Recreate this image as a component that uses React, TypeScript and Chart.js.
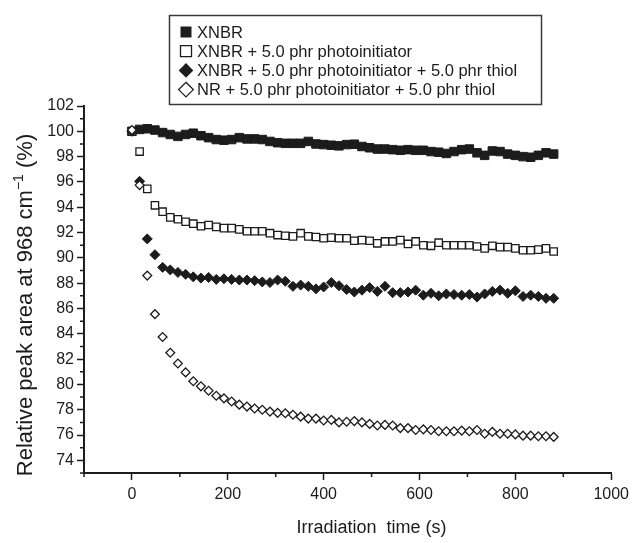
import React, { useEffect, useRef } from 'react';
import { Chart, registerables } from 'chart.js';

Chart.register(...registerables);

// ---- data ----
const times = [0, 16, 32, 48, 64, 80, 96, 112, 128, 144, 160, 176, 192, 208, 224, 240, 256, 272, 288, 304, 320, 336, 352, 368, 384, 400, 416, 432, 448, 464, 480, 496, 512, 528, 544, 560, 576, 592, 608, 624, 640, 656, 672, 688, 704, 720, 736, 752, 768, 784, 800, 816, 832, 848, 864, 880];

const xnbr = [100.0, 100.15, 100.2, 100.1, 99.9, 99.75, 99.6, 99.75, 99.85, 99.65, 99.5, 99.35, 99.3, 99.35, 99.5, 99.4, 99.4, 99.35, 99.2, 99.1, 99.05, 99.05, 99.05, 99.2, 99.0, 98.95, 98.9, 98.85, 98.95, 98.98, 98.8, 98.7, 98.6, 98.6, 98.55, 98.5, 98.55, 98.5, 98.5, 98.4, 98.35, 98.25, 98.4, 98.55, 98.6, 98.3, 98.1, 98.45, 98.4, 98.2, 98.1, 98.0, 97.95, 98.1, 98.3, 98.2];

const xnbrPi = [100.0, 98.4, 95.45, 94.15, 93.65, 93.2, 93.05, 92.85, 92.7, 92.5, 92.6, 92.45, 92.35, 92.35, 92.25, 92.1, 92.1, 92.1, 91.95, 91.8, 91.75, 91.7, 91.95, 91.7, 91.65, 91.55, 91.6, 91.55, 91.55, 91.35, 91.4, 91.35, 91.15, 91.3, 91.3, 91.4, 91.1, 91.3, 91.0, 90.95, 91.2, 91.0, 91.0, 91.0, 91.0, 90.9, 90.75, 90.95, 90.85, 90.85, 90.75, 90.6, 90.6, 90.65, 90.75, 90.5];

const xnbrPiThiol = [100.0, 96.05, 91.5, 90.25, 89.25, 89.05, 88.85, 88.7, 88.5, 88.4, 88.45, 88.3, 88.35, 88.3, 88.25, 88.25, 88.2, 88.1, 88.05, 88.25, 88.15, 87.75, 87.85, 87.75, 87.55, 87.7, 88.05, 87.8, 87.5, 87.3, 87.45, 87.65, 87.35, 87.75, 87.25, 87.25, 87.3, 87.45, 87.05, 87.2, 87.0, 87.15, 87.1, 87.05, 87.1, 86.9, 87.15, 87.35, 87.45, 87.2, 87.4, 86.95, 87.05, 86.95, 86.8, 86.8];

const nrPiThiol = [100.1, 95.75, 88.6, 85.55, 83.75, 82.5, 81.65, 80.95, 80.25, 79.85, 79.5, 79.1, 78.9, 78.65, 78.4, 78.25, 78.1, 78.0, 77.85, 77.75, 77.72, 77.6, 77.45, 77.3, 77.3, 77.15, 77.2, 77.0, 77.05, 77.1, 77.0, 76.88, 76.75, 76.8, 76.75, 76.55, 76.55, 76.4, 76.45, 76.4, 76.3, 76.3, 76.3, 76.35, 76.3, 76.4, 76.1, 76.25, 76.1, 76.1, 76.05, 75.95, 75.95, 75.9, 75.9, 75.85];

const seriesLabels = [
  'XNBR',
  'XNBR + 5.0 phr photoinitiator',
  'XNBR + 5.0 phr photoinitiator + 5.0 phr thiol',
  'NR + 5.0 phr photoinitiator + 5.0 phr thiol',
];

const xMajorTicks = [0, 200, 400, 600, 800, 1000];
const xMinorTicks = [-100, 100, 300, 500, 700, 900];
const yMajorTicks = [74, 76, 78, 80, 82, 84, 86, 88, 90, 92, 94, 96, 98, 100, 102];
const yMinorTicks = [73, 75, 77, 79, 81, 83, 85, 87, 89, 91, 93, 95, 97, 99, 101];

const xTitle = 'Irradiation  time (s)';
const yTitleMain = 'Relative peak area at 968 cm';
const yTitleSup = '\u22121';
const yTitleEnd = ' (%)';

// ---- styles ----
const INK = '#1c1c1c';
const FONT = '"Liberation Sans", Arial, Helvetica, sans-serif';

type Marker = { style: string; filled: boolean };
const markers: Marker[] = [
  { style: 'rect', filled: true },
  { style: 'rect', filled: false },
  { style: 'rectRot', filled: true },
  { style: 'rectRot', filled: false },
];

function drawMarker(ctx: CanvasRenderingContext2D, m: Marker, x: number, y: number) {
  ctx.beginPath();
  if (m.style === 'rect') {
    const h = 5.5;
    ctx.rect(x - h, y - h, 2 * h, 2 * h);
  } else {
    const r = 7.3;
    ctx.moveTo(x, y - r);
    ctx.lineTo(x + r, y);
    ctx.lineTo(x, y + r);
    ctx.lineTo(x - r, y);
    ctx.closePath();
  }
  if (m.filled) {
    ctx.fillStyle = INK;
    ctx.fill();
  } else {
    ctx.fillStyle = '#fff';
    ctx.fill();
    ctx.lineWidth = 1.3;
    ctx.strokeStyle = INK;
    ctx.stroke();
  }
}

const decorPlugin = {
  id: 'decor',
  afterDraw(chart: any) {
    const ctx: CanvasRenderingContext2D = chart.ctx;
    const xs = chart.scales.x;
    const ys = chart.scales.y;
    const area = chart.chartArea;
    ctx.save();

    // minor ticks
    ctx.strokeStyle = INK;
    ctx.lineWidth = 1.5;
    ctx.beginPath();
    xMinorTicks.forEach((v) => {
      const px = xs.getPixelForValue(v);
      ctx.moveTo(px, area.bottom);
      ctx.lineTo(px, area.bottom + 4);
    });
    yMinorTicks.forEach((v) => {
      const py = ys.getPixelForValue(v);
      ctx.moveTo(area.left, py);
      ctx.lineTo(area.left - 4, py);
    });
    ctx.stroke();

    // x title, centred on the 0..1000 span
    ctx.fillStyle = INK;
    ctx.font = `18px ${FONT}`;
    ctx.textAlign = 'center';
    ctx.textBaseline = 'middle';
    const cx = (xs.getPixelForValue(xMajorTicks[0]) + xs.getPixelForValue(xMajorTicks[xMajorTicks.length - 1])) / 2;
    ctx.fillText(xTitle, cx, 528);

    // y title (rotated, with superscript)
    ctx.save();
    ctx.translate(24, 305);
    ctx.rotate(-Math.PI / 2);
    ctx.textAlign = 'left';
    ctx.textBaseline = 'alphabetic';
    const mainFont = `22px ${FONT}`;
    const supFont = `14px ${FONT}`;
    ctx.font = mainFont;
    const w1 = ctx.measureText(yTitleMain).width;
    const w3 = ctx.measureText(yTitleEnd).width;
    ctx.font = supFont;
    const w2 = ctx.measureText(yTitleSup).width;
    let sx = -(w1 + w2 + w3) / 2;
    ctx.font = mainFont;
    ctx.fillText(yTitleMain, sx, 8);
    sx += w1;
    ctx.font = supFont;
    ctx.fillText(yTitleSup, sx, -1);
    sx += w2;
    ctx.font = mainFont;
    ctx.fillText(yTitleEnd, sx, 8);
    ctx.restore();

    // legend box
    ctx.lineWidth = 1.5;
    ctx.strokeStyle = '#3a3a3a';
    ctx.strokeRect(169.5, 15.5, 372, 89);
    ctx.font = `16.5px ${FONT}`;
    ctx.textAlign = 'left';
    ctx.textBaseline = 'middle';
    seriesLabels.forEach((label, i) => {
      const ry = 32 + i * 19.2;
      drawMarker(ctx, markers[i], 186, ry);
      ctx.fillStyle = INK;
      ctx.fillText(label, 197, ry + 1);
    });

    ctx.restore();
  },
};

function pts(values: number[]) {
  return values.map((v, i) => ({ x: times[i], y: v }));
}

export default function App() {
  const ref = useRef<HTMLCanvasElement | null>(null);

  useEffect(() => {
    if (!ref.current) return;
    const chart = new Chart(ref.current, {
      type: 'scatter',
      data: {
        datasets: [
          {
            label: seriesLabels[3],
            data: pts(nrPiThiol),
            pointStyle: 'rectRot',
            pointRadius: 4.4,
            backgroundColor: '#ffffff',
            borderColor: INK,
            borderWidth: 1.3,
            order: 0,
          },
          {
            label: seriesLabels[2],
            data: pts(xnbrPiThiol),
            pointStyle: 'rectRot',
            pointRadius: 5,
            backgroundColor: INK,
            borderColor: INK,
            borderWidth: 1,
            order: 1,
          },
          {
            label: seriesLabels[1],
            data: pts(xnbrPi),
            pointStyle: 'rect',
            pointRadius: 5.2,
            backgroundColor: '#ffffff',
            borderColor: INK,
            borderWidth: 1.3,
            order: 2,
          },
          {
            label: seriesLabels[0],
            data: pts(xnbr),
            pointStyle: 'rect',
            pointRadius: 6,
            backgroundColor: INK,
            borderColor: INK,
            borderWidth: 1,
            order: 3,
          },
        ],
      },
      options: {
        animation: false,
        responsive: false,
        events: [],
        layout: { padding: { top: 106, right: 22, left: 0, bottom: 0 } },
        plugins: {
          legend: { display: false },
          tooltip: { enabled: false },
          title: { display: false },
        },
        scales: {
          x: {
            type: 'linear',
            min: -100,
            max: 1000,
            afterBuildTicks: (s: any) => {
              s.ticks = xMajorTicks.map((v) => ({ value: v }));
            },
            afterFit: (s: any) => {
              s.height = 70;
            },
            ticks: {
              color: INK,
              font: { family: FONT, size: 16 },
              padding: 5,
              maxRotation: 0,
              autoSkip: false,
              callback: (v: any) => String(v),
            },
            grid: {
              drawOnChartArea: false,
              tickLength: 7,
              tickWidth: 1.5,
              tickColor: INK,
            },
            border: { color: INK, width: 2 },
            title: { display: false },
          },
          y: {
            type: 'linear',
            min: 73,
            max: 102,
            afterBuildTicks: (s: any) => {
              s.ticks = yMajorTicks.map((v) => ({ value: v }));
            },
            afterFit: (s: any) => {
              s.width = 84;
            },
            ticks: {
              color: INK,
              font: { family: FONT, size: 16 },
              padding: 3,
              autoSkip: false,
              callback: (v: any) => String(v),
            },
            grid: {
              drawOnChartArea: false,
              tickLength: 7,
              tickWidth: 1.5,
              tickColor: INK,
            },
            border: { color: INK, width: 2 },
            title: { display: false },
          },
        },
      },
      plugins: [decorPlugin],
    } as any);
    return () => chart.destroy();
  }, []);

  return (
    <div style={{ position: 'fixed', left: 0, top: 0, width: 634, height: 543, background: '#fff' }}>
      <canvas ref={ref} width={634} height={543} style={{ display: 'block' }} />
    </div>
  );
}
